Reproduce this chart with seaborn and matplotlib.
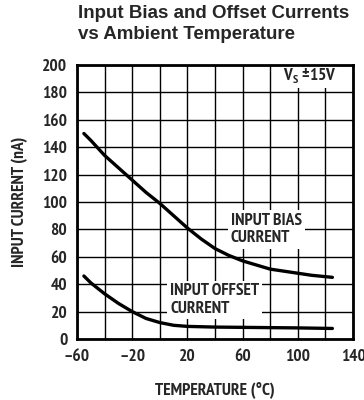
import numpy as np
import pandas as pd
import matplotlib as mpl
import matplotlib.pyplot as plt
import seaborn as sns

# ---- data ----
temp_bias = [-55, -50, -40, -30, -20, -10, 0, 10, 20, 30, 40, 50, 60, 70, 80, 90, 100, 110, 125]
bias_na = [150, 145, 134, 125, 116, 107, 99, 90, 81, 73, 66, 61, 57, 54, 51, 49.5, 48, 46.5, 45]

temp_offset = [-55, -50, -40, -30, -20, -10, 0, 10, 20, 40, 60, 80, 100, 125]
offset_na = [46, 41, 33, 26, 20, 15, 12, 10, 9.2, 8.7, 8.5, 8.3, 8.1, 7.7]

x_ticks = [-60, -20, 20, 60, 100, 140]
y_ticks = list(range(0, 201, 20))

sns.set_theme(style="white")
mpl.rcParams["font.family"] = ["PT Sans Narrow", "DejaVu Sans"]
mpl.rcParams["font.weight"] = "bold"

df = pd.concat([
    pd.DataFrame({"temp": temp_bias, "current": bias_na, "series": "bias"}),
    pd.DataFrame({"temp": temp_offset, "current": offset_na, "series": "offset"}),
])

fig = plt.figure(figsize=(3.64, 4.0), dpi=100)
ax = fig.add_axes([0.2115, 0.1525, 0.7585, 0.685])

sns.lineplot(data=df, x="temp", y="current", units="series", estimator=None,
             color="black", linewidth=2.4, ax=ax, legend=False, zorder=3)

ax.set_xlim(-60, 140)
ax.set_ylim(0, 200)
ax.set_xticks(x_ticks)
ax.set_xticklabels([f"{t}".replace("-", "\u2013") for t in x_ticks])
ax.set_yticks(y_ticks)
ax.set_xticks(range(-60, 141, 20), minor=True)
ax.tick_params(axis="both", which="both", length=0, labelsize=12.5, pad=7)
ax.grid(True, which="both", color="black", linewidth=1.0)
for s in ax.spines.values():
    s.set_color("black")
    s.set_linewidth(2)
    s.set_zorder(4)

ax.set_xlabel("TEMPERATURE (\u00b0C)", fontsize=12.5, fontweight="bold", labelpad=12)
ax.set_ylabel("INPUT CURRENT (nA)", fontsize=12.5, fontweight="bold", labelpad=10)

box = dict(facecolor="white", edgecolor="none", pad=2)
ax.text(51.5, 80, "INPUT BIAS\nCURRENT", fontsize=12.5, fontweight="bold",
        ha="left", va="center", linespacing=1.1, bbox=box, zorder=2)
ax.text(7.5, 28.5, "INPUT OFFSET\nCURRENT", fontsize=12.5, fontweight="bold",
        ha="left", va="center", linespacing=1.1, bbox=box, zorder=2)
ax.text(89, 192.5, "V$_\\mathregular{S}$ \u00b115V", fontsize=12.5, fontweight="bold",
        ha="left", va="center", bbox=box, zorder=2)

fig.text(0.213, 0.94, "Input Bias and Offset Currents\nvs Ambient Temperature",
         fontsize=13.5, fontweight="bold", family=["Liberation Sans", "DejaVu Sans"],
         ha="left", va="center", linespacing=1.25)

fig.savefig("out.png", dpi=100)
